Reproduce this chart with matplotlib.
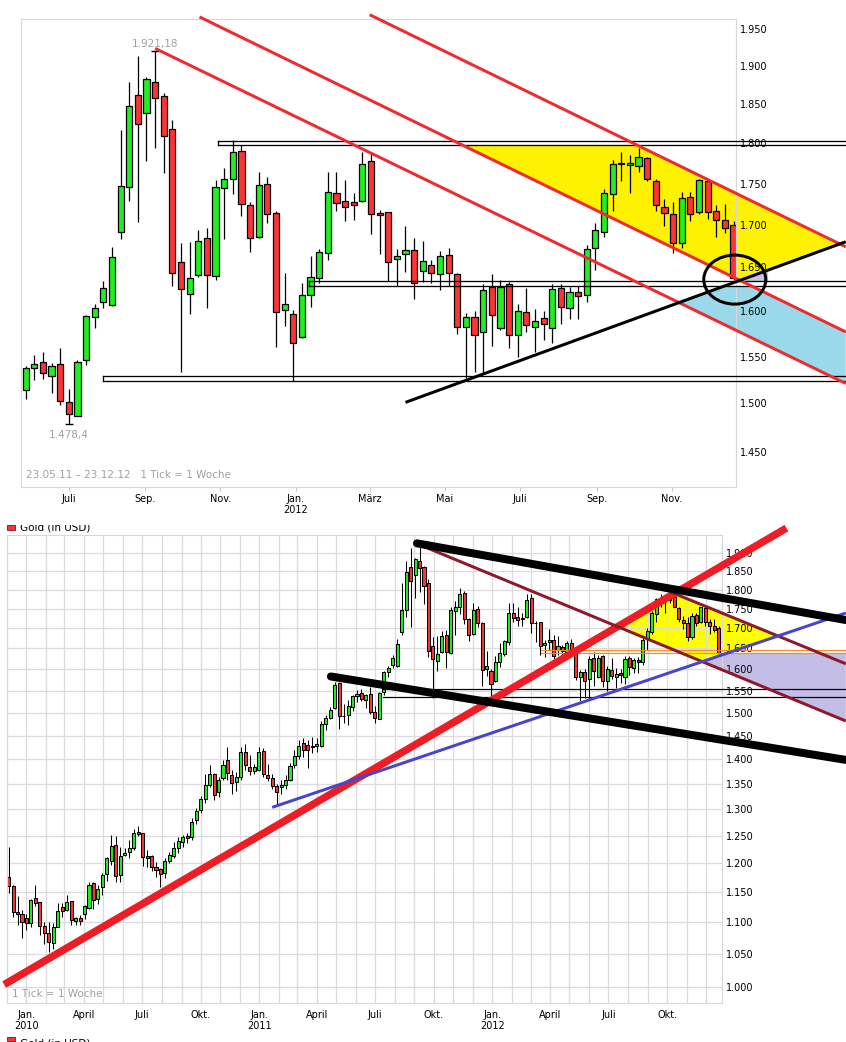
import numpy as np
import pandas as pd
import matplotlib
matplotlib.use('Agg')
import matplotlib.pyplot as plt
import matplotlib.dates as mdates
import matplotlib.ticker as mticker
import matplotlib.transforms as mtransforms
from matplotlib.patches import Polygon, Ellipse, Rectangle

W, H, DPI = 846, 1042, 100
PX = 72.0 / DPI  # one pixel in points

# weekly gold candles (USD), Fridays
week_dates = pd.date_range('2009-12-04', periods=160, freq='W-FRI')
opens = [
    1177, 1161, 1116, 1113, 1107, 1098, 1140, 1133, 1094, 1082,
    1066, 1093, 1125, 1120, 1135, 1102, 1107, 1113, 1123, 1166,
    1139, 1159, 1181, 1205, 1233, 1180, 1215, 1220, 1227, 1258,
    1255, 1213, 1213, 1194, 1190, 1183, 1205, 1214, 1227, 1238,
    1250, 1248, 1280, 1299, 1320, 1348, 1371, 1335, 1362, 1399,
    1368, 1354, 1364, 1415, 1384, 1377, 1378, 1418, 1368, 1362,
    1345, 1344, 1348, 1358, 1389, 1408, 1435, 1430, 1425, 1429,
    1428, 1476, 1488, 1510, 1567, 1493, 1495,
    1513.7, 1537.2, 1543.7, 1529.3, 1541.6, 1501.0, 1486.9, 1546.3, 1594.0, 1610.2,
    1606.8, 1691.3, 1745.6, 1861.7, 1838.5, 1878.9, 1860.5, 1818.1, 1656.4, 1619.3,
    1640.9, 1684.1, 1639.8, 1744.4, 1755.4, 1790.2, 1723.6, 1685.3, 1749.0, 1714.0,
    1601.1, 1596.7, 1571.7, 1618.0, 1637.5, 1666.5, 1738.2, 1728.3, 1727.1, 1728.3,
    1777.8, 1714.0, 1715.2, 1659.5, 1665.3, 1670.0, 1645.6, 1652.5, 1642.2, 1664.2,
    1642.2, 1582.1, 1593.3, 1576.6, 1627.2, 1581.0, 1630.6, 1573.3, 1599.3, 1582.1,
    1592.1, 1581.0, 1626.1, 1603.4, 1621.6, 1618.0, 1672.4, 1691.3, 1737.0, 1774.0,
    1773.3, 1772.0, 1781.5, 1752.9, 1721.0, 1712.8, 1678.2, 1733.1, 1715.2, 1752.9,
    1716.4, 1705.6, 1700.3]
highs = [
    1229, 1163, 1143, 1120, 1113, 1139, 1163, 1134, 1101, 1100,
    1099, 1131, 1131, 1146, 1135, 1109, 1112, 1129, 1167, 1167,
    1163, 1183, 1212, 1251, 1249, 1230, 1227, 1243, 1263, 1268,
    1256, 1224, 1215, 1202, 1192, 1209, 1221, 1239, 1248, 1252,
    1255, 1283, 1302, 1327, 1370, 1389, 1372, 1364, 1398, 1425,
    1378, 1374, 1426, 1432, 1409, 1390, 1425, 1424, 1391, 1370,
    1350, 1358, 1368, 1392, 1420, 1441, 1445, 1441, 1448, 1445,
    1481, 1495, 1514, 1571, 1571, 1520, 1529,
    1539.7, 1551.4, 1555.0, 1542.7, 1559.4, 1514.8, 1546.3, 1595.9, 1608.3, 1634.5,
    1673.5, 1817.1, 1879.3, 1913.8, 1885.9, 1921.18, 1864.4, 1829.9, 1678.2, 1679.7,
    1694.0, 1696.4, 1754.1, 1769.0, 1804.1, 1797.9, 1727.1, 1764.0, 1757.8, 1716.4,
    1643.6, 1601.5, 1632.2, 1663.0, 1671.6, 1764.0, 1764.0, 1754.1, 1738.2, 1789.0,
    1789.0, 1718.0, 1715.6, 1671.6, 1698.8, 1684.1, 1680.6, 1658.3, 1668.9, 1672.4,
    1643.3, 1597.8, 1600.0, 1631.0, 1642.2, 1635.2, 1633.0, 1608.3, 1626.1, 1602.3,
    1600.4, 1630.6, 1630.6, 1627.9, 1628.4, 1675.9, 1702.0, 1743.1, 1779.4, 1789.4,
    1785.6, 1794.8, 1783.0, 1755.8, 1731.0, 1727.9, 1739.5, 1739.5, 1755.4, 1755.4,
    1723.6, 1724.8, 1705.2]
lows = [
    1148, 1109, 1095, 1075, 1088, 1093, 1126, 1079, 1065, 1052,
    1057, 1092, 1109, 1119, 1096, 1096, 1095, 1105, 1121, 1121,
    1130, 1146, 1170, 1197, 1168, 1168, 1213, 1210, 1224, 1249,
    1196, 1194, 1186, 1176, 1159, 1174, 1201, 1209, 1218, 1230,
    1237, 1243, 1272, 1293, 1312, 1344, 1319, 1325, 1358, 1358,
    1330, 1337, 1358, 1378, 1368, 1370, 1376, 1365, 1355, 1340,
    1311, 1330, 1340, 1355, 1383, 1400, 1406, 1383, 1414, 1415,
    1425, 1463, 1486, 1508, 1465, 1478, 1473,
    1504.8, 1525.0, 1526.1, 1511.1, 1498.5, 1478.4, 1486.3, 1541.2, 1581.7, 1604.1,
    1606.0, 1683.6, 1729.1, 1703.8, 1777.3, 1793.6, 1763.6, 1629.1, 1533.6, 1596.7,
    1638.6, 1604.1, 1636.0, 1682.9, 1737.0, 1711.2, 1667.7, 1684.1, 1702.7, 1560.8,
    1583.9, 1523.3, 1570.6, 1605.2, 1632.2, 1658.7, 1717.1, 1705.2, 1706.4, 1727.1,
    1688.9, 1665.2, 1634.1, 1628.7, 1645.1, 1613.6, 1633.0, 1631.8, 1623.8, 1629.1,
    1574.4, 1526.5, 1533.6, 1531.9, 1561.9, 1579.2, 1559.0, 1549.1, 1577.3, 1555.3,
    1568.4, 1564.5, 1585.8, 1591.1, 1591.1, 1610.9, 1646.8, 1686.0, 1717.1, 1753.6,
    1738.2, 1764.8, 1753.6, 1717.1, 1699.1, 1667.2, 1673.0, 1705.2, 1713.5, 1706.9,
    1685.3, 1690.0, 1636.0]
closes = [
    1160, 1116, 1113, 1101, 1098, 1137, 1131, 1094, 1082, 1068,
    1093, 1119, 1119, 1133, 1104, 1107, 1102, 1126, 1162, 1137,
    1156, 1180, 1209, 1232, 1178, 1214, 1218, 1227, 1256, 1254,
    1211, 1210, 1194, 1189, 1182, 1205, 1215, 1227, 1240, 1248,
    1246, 1276, 1297, 1320, 1348, 1370, 1328, 1358, 1389, 1372,
    1352, 1365, 1415, 1389, 1377, 1384, 1415, 1370, 1362, 1345,
    1335, 1348, 1358, 1387, 1408, 1428, 1420, 1420, 1429, 1432,
    1476, 1488, 1507, 1563, 1493, 1492, 1516,
    1537.2, 1541.6, 1531.9, 1539.4, 1502.0, 1488.4, 1543.7, 1594.4, 1603.4, 1626.1,
    1661.8, 1746.6, 1847.5, 1824.4, 1882.8, 1857.9, 1809.3, 1643.3, 1625.0, 1637.5,
    1680.9, 1640.9, 1745.6, 1755.4, 1789.0, 1724.7, 1684.1, 1747.8, 1712.8, 1599.3,
    1608.0, 1564.5, 1618.0, 1638.6, 1667.7, 1739.5, 1726.3, 1721.0, 1723.6, 1774.0,
    1712.8, 1712.2, 1656.7, 1663.4, 1670.0, 1631.8, 1657.2, 1643.3, 1663.0, 1643.3,
    1582.1, 1593.3, 1573.3, 1623.8, 1595.5, 1627.2, 1573.3, 1600.0, 1584.3, 1588.8,
    1585.4, 1625.0, 1604.6, 1621.6, 1617.1, 1671.2, 1693.7, 1738.2, 1774.4, 1775.2,
    1775.8, 1782.8, 1755.4, 1723.6, 1714.0, 1678.9, 1731.9, 1712.8, 1754.1, 1715.2,
    1705.6, 1696.0, 1637.8]

# top chart drawings: (start date, price, end date, price)
top_red_lines = [('2012-03-01', 1970, '2013-03-22', 1674),
                 ('2011-10-15', 1967, '2013-03-22', 1577),
                 ('2011-09-09', 1924, '2013-03-22', 1521)]
top_uptrend = ('2012-03-30', 1501, '2013-03-22', 1680)
top_zones = [('2011-10-30', 1797.6, 1802.7),
             ('2012-01-12', 1628.4, 1634.1),
             ('2011-07-29', 1523.3, 1529.3)]
top_edge = '2013-03-22'
top_circle = ('2012-12-22', 1636)
top_ticks = ['2011-07-01', '2011-09-01', '2011-11-01', '2012-01-01', '2012-03-01',
             '2012-05-01', '2012-07-01', '2012-09-01', '2012-11-01']
top_ticklabels = ['Juli', 'Sep.', 'Nov.', 'Jan.\n2012', 'März', 'Mai', 'Juli', 'Sep.', 'Nov.']
top_levels = [1450, 1500, 1550, 1600, 1650, 1700, 1750, 1800, 1850, 1900, 1950]

# bottom chart drawings
bot_red_thick = ('2009-11-27', 1003, '2013-04-06', 1972)
bot_black_hi = ('2011-09-05', 1928, '2013-07-08', 1721)
bot_black_lo = ('2011-04-23', 1583, '2013-07-08', 1399)
bot_maroon_a = ('2011-09-09', 1924, '2013-07-08', 1482)
bot_maroon_b = ('2012-10-05', 1795, '2013-07-08', 1613)
bot_blue = ('2011-01-21', 1304, '2013-07-08', 1739)
bot_orange = [('2012-03-17', 1646.4), ('2012-03-17', 1638.4)]
bot_thin = [('2011-07-13', 1553.3), ('2011-07-13', 1536.4)]
bot_edge = '2013-07-08'
bot_ticks = ['2010-01-01', '2010-04-01', '2010-07-01', '2010-10-01', '2011-01-01', '2011-04-01',
             '2011-07-01', '2011-10-01', '2012-01-01', '2012-04-01', '2012-07-01', '2012-10-01']
bot_ticklabels = ['Jan.\n2010', 'April', 'Juli', 'Okt.', 'Jan.\n2011', 'April', 'Juli', 'Okt.',
                  'Jan.\n2012', 'April', 'Juli', 'Okt.']
bot_levels = [1000, 1050, 1100, 1150, 1200, 1250, 1300, 1350, 1400, 1450, 1500, 1550,
              1600, 1650, 1700, 1750, 1800, 1850, 1900]

GREEN, RED = '#22ee22', '#ff3333'
GREY_TXT = '#a0a0a0'


def dn(d):
    return mdates.date2num(pd.Timestamp(d))


def seg(s):
    return dn(s[0]), np.log10(s[1]), dn(s[2]), np.log10(s[3])


def meet(a, b):
    # crossing of two drawn lines (straight in date / log-price space)
    x0, y0, x1, y1 = seg(a)
    u0, v0, u1, v1 = seg(b)
    m1 = (y1 - y0) / (x1 - x0)
    m2 = (v1 - v0) / (u1 - u0)
    x = (v0 - m2 * u0 - y0 + m1 * x0) / (m1 - m2)
    return x, 10 ** (y0 + m1 * (x - x0))


def flat(p, d0='2009-01-01', d1='2014-01-01'):
    return (d0, p, d1, p)


def price_at(s, d):
    x0, y0, x1, y1 = seg(s)
    return 10 ** np.interp(dn(d), [x0, x1], [y0, y1])


def candles(ax, idx, width, lw):
    x = mdates.date2num(week_dates[idx])
    o = np.array(opens)[idx]; h = np.array(highs)[idx]
    l = np.array(lows)[idx]; c = np.array(closes)[idx]
    ax.vlines(x, l, h, color='black', lw=lw, zorder=2)
    cols = [GREEN if cc >= oo else RED for oo, cc in zip(o, c)]
    ax.bar(x, np.maximum(np.abs(c - o), 0.4), width=width, bottom=np.minimum(o, c),
           color=cols, edgecolor='black', linewidth=lw, zorder=2.1)


def dline(ax, s, color, lw, z=4, cap='butt'):
    ax.plot([dn(s[0]), dn(s[2])], [s[1], s[3]], color=color, lw=lw, clip_on=False,
            zorder=z, solid_capstyle=cap)


def style_price_axis(ax, levels, pad):
    ax.set_yscale('log')
    ax.yaxis.tick_right()
    ax.yaxis.set_major_locator(mticker.FixedLocator(levels))
    ax.yaxis.set_minor_locator(mticker.NullLocator())
    ax.yaxis.set_major_formatter(mticker.FuncFormatter(lambda v, p: f'{v:,.0f}'.replace(',', '.')))
    ax.tick_params(axis='y', length=0, pad=pad, labelsize=7)


def de_num(v):
    s = f'{v:,.2f}'.replace(',', 'X').replace('.', ',').replace('X', '.')
    return s.rstrip('0').rstrip(',')


plt.rcParams['font.family'] = ['DejaVu Sans']
fig = plt.figure(figsize=(W / DPI, H / DPI), dpi=DPI)

# ---------------- top chart ----------------
ax1 = fig.add_axes([20.7 / W, 1 - 487 / H, (736 - 20.7) / W, (487 - 19.3) / H])
for sp in ax1.spines.values():
    sp.set_color('#d8d8d8')
top_idx = np.where(week_dates >= pd.Timestamp('2011-05-23'))[0]
candles(ax1, top_idx, 5.0, 0.9)

L1, L2, L3 = top_red_lines
hi_zone = flat(top_zones[0][1])
mid_lo, mid_hi = flat(top_zones[1][1]), flat(top_zones[1][2])
yellow = [meet(L2, hi_zone), meet(L1, hi_zone), meet(L1, top_uptrend), meet(L2, top_uptrend)]
ax1.add_patch(Polygon(yellow, closed=True, fc='#fff200', ec='none', zorder=0.5, clip_on=False))
blue = [meet(L3, top_uptrend), meet(top_uptrend, mid_lo), meet(L2, mid_lo),
        (dn(L2[2]), L2[3]), (dn(L3[2]), L3[3])]
ax1.add_patch(Polygon(blue, closed=True, fc='#99d9ea', ec='none', zorder=0.5, clip_on=False))
lav_end = '2013-01-18'
lav = [meet(top_uptrend, L2), meet(L2, mid_hi), (dn(lav_end), mid_hi[1]),
       (dn(lav_end), price_at(top_uptrend, lav_end))]
ax1.add_patch(Polygon(lav, closed=True, fc='#c8c3e6', ec='none', zorder=0.5, clip_on=False))

for d0, lo, hi in top_zones:
    for p in (lo, hi):
        ax1.plot([dn(d0), dn(top_edge)], [p, p], color='black', lw=1.3 * PX, clip_on=False, zorder=3)
    ax1.plot([dn(d0), dn(d0)], [lo, hi], color='black', lw=1.3 * PX, zorder=3)
for s in top_red_lines:
    dline(ax1, s, '#ee2b2e', 3 * PX)
dline(ax1, top_uptrend, 'black', 3 * PX)

ell = Ellipse((0, 0), 62 / DPI, 49 / DPI, fc='none', ec='black', lw=3 * PX, clip_on=False, zorder=5,
              transform=fig.dpi_scale_trans + mtransforms.ScaledTranslation(
                  dn(top_circle[0]), top_circle[1], ax1.transData))
ax1.add_artist(ell)

# high / low marks
hi_i = int(np.argmax(np.array(highs)[top_idx])) + top_idx[0]
lo_i = int(np.argmin(np.array(lows)[top_idx])) + top_idx[0]
for i, p, off in ((hi_i, highs[hi_i], 5.0), (lo_i, lows[lo_i], -8.0)):
    xd = dn(week_dates[i])
    ax1.plot([xd], [p], marker='_', ms=8 * PX, mew=1.0, color='black', zorder=3)
    ax1.annotate(de_num(p), (xd, p), xytext=(0, off), textcoords='offset points', ha='center',
                 va='center', fontsize=7.5, color=GREY_TXT)
ax1.text(0.007, 0.014, '23.05.11 \u2013 23.12.12   1 Tick = 1 Woche',
         transform=ax1.transAxes, fontsize=7.5, color=GREY_TXT, va='bottom')

ax1.set_xlim(dn('2011-05-23'), dn('2012-12-23'))
style_price_axis(ax1, top_levels, 4 * PX)
ax1.set_ylim(1414.5, 1963.7)
ax1.set_xticks([dn(t) for t in top_ticks])
ax1.set_xticklabels(top_ticklabels, fontsize=7, linespacing=1.15)
ax1.tick_params(axis='x', length=3, color='#c8c8c8', pad=2)

# ---------------- bottom chart ----------------
ax2 = fig.add_axes([6.7 / W, 1 - 1003 / H, (722 - 6.7) / W, (1003 - 535) / H])
for sp in ax2.spines.values():
    sp.set_color('#d8d8d8')
ax2.set_axisbelow(True)
candles(ax2, np.arange(len(week_dates)), 4.8, 0.75)

orange_lo = flat(bot_orange[1][1])
yel2 = [meet(bot_red_thick, bot_maroon_a), meet(bot_red_thick, bot_maroon_b),
        meet(bot_maroon_b, bot_blue), meet(bot_blue, bot_maroon_a)]
ax2.add_patch(Polygon(yel2, closed=True, fc='#ffff00', ec='none', zorder=0.3, clip_on=False))
lav2 = [meet(bot_blue, bot_maroon_a), meet(bot_blue, orange_lo), (dn(bot_edge), orange_lo[1]),
        (dn(bot_maroon_a[2]), bot_maroon_a[3])]
ax2.add_patch(Polygon(lav2, closed=True, fc='#c4bde6', ec='none', zorder=0.3, clip_on=False))

for d0, p in bot_orange:
    ax2.plot([dn(d0), dn(bot_edge)], [p, p], color='#ff8a1e', lw=1.2 * PX, clip_on=False, zorder=3)
for d0, p in bot_thin:
    ax2.plot([dn(d0), dn(bot_edge)], [p, p], color='black', lw=1.2 * PX, clip_on=False, zorder=3)
dline(ax2, bot_red_thick, '#ee1c25', 7.5 * PX)
dline(ax2, bot_maroon_a, '#8c1a2c', 3 * PX)
dline(ax2, bot_maroon_b, '#8c1a2c', 3 * PX)
dline(ax2, bot_blue, '#4646cc', 3 * PX)
dline(ax2, bot_black_hi, 'black', 8 * PX, cap='round')
dline(ax2, bot_black_lo, 'black', 8 * PX, cap='round')

ax2.text(0.008, 0.008, '1 Tick = 1 Woche', transform=ax2.transAxes, fontsize=7.5,
         color=GREY_TXT, va='bottom')
ax2.set_xlim(dn('2009-12-01'), dn('2012-12-26'))
style_price_axis(ax2, bot_levels, 4 * PX)
ax2.set_ylim(976, 1952)
ax2.set_xticks([dn(t) for t in bot_ticks])
ax2.set_xticklabels(bot_ticklabels, fontsize=7, linespacing=1.15)
months = pd.date_range('2009-12-01', '2012-12-01', freq='MS')
ax2.set_xticks([dn(m) for m in months], minor=True)
ax2.tick_params(axis='x', which='both', length=0, pad=5)
ax2.grid(True, which='both', axis='x', color='#dcdcdc', lw=1.3 * PX)
ax2.grid(True, which='major', axis='y', color='#dcdcdc', lw=1.3 * PX)

# series legend, cut by the screenshot edges
clip_top = mtransforms.Bbox.from_extents(0, 0, W, H - 525)
leg = Rectangle((7 / W, 1 - 530 / H), 8 / W, 5 / H, transform=fig.transFigure,
                fc=RED, ec='#602020', lw=0.6)
leg.set_clip_box(clip_top)
fig.patches.append(leg)
t = fig.text(20 / W, 1 - 527 / H, 'Gold (in USD)', fontsize=7.5, va='center')
t.set_clip_box(clip_top)
fig.patches.append(Rectangle((7 / W, 1 - 1041 / H), 8 / W, 4 / H, transform=fig.transFigure,
                             fc=RED, ec='#602020', lw=0.6))
fig.text(20 / W, 1 - 1043 / H, 'Gold (in USD)', fontsize=7.5, va='center')

fig.savefig('out.png', dpi=DPI)
